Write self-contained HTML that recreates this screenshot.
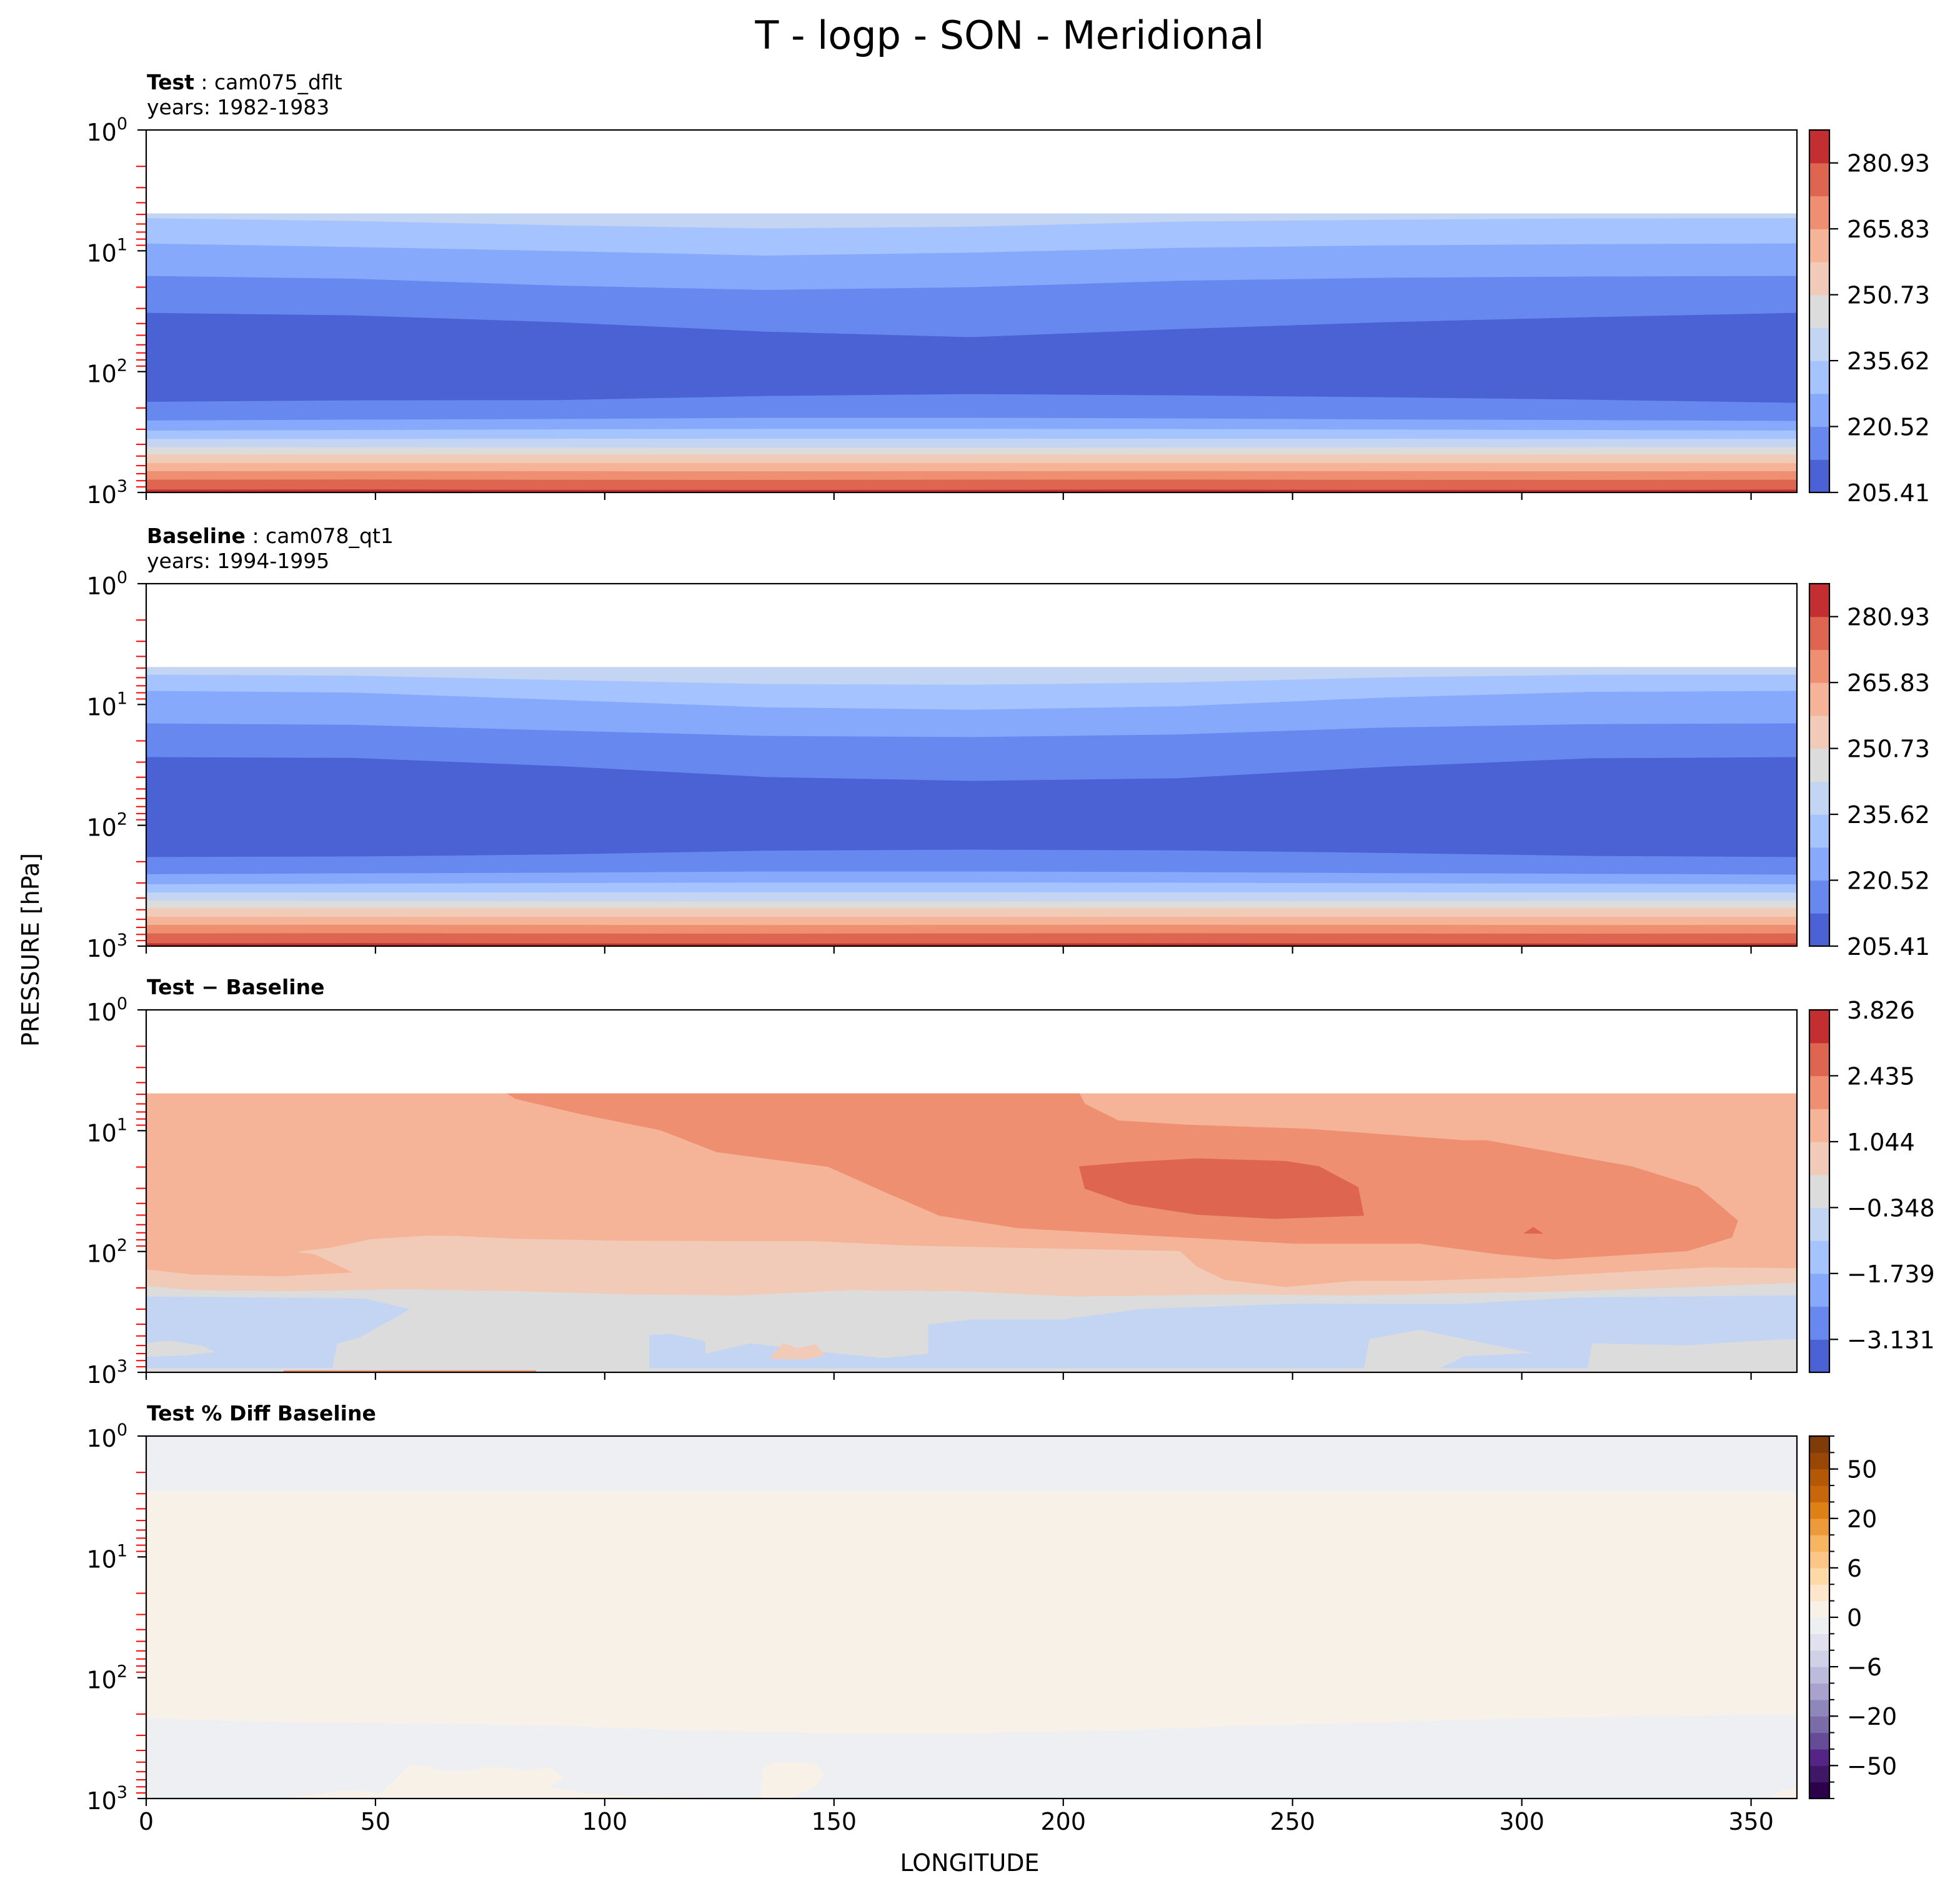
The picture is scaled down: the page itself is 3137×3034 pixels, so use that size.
<!DOCTYPE html>
<html><head><meta charset="utf-8"><style>
html,body{margin:0;padding:0;background:#fff;}
svg{display:block;font-family:"DejaVu Sans","Liberation Sans",sans-serif;}
</style></head><body>
<svg id="fig" xmlns="http://www.w3.org/2000/svg" width="3137" height="3034" viewBox="0 0 1568.5 1517">
<rect width="1568.5" height="1517" fill="#fff"/>
<text x="808" y="39" font-size="31" text-anchor="middle">T - logp - SON - Meridional</text>
<text x="117.5" y="71.5" font-size="16.5"><tspan font-weight="bold">Test</tspan><tspan> : cam075_dflt</tspan></text>
<text x="117.5" y="91.6" font-size="16.5">years: 1982-1983</text>
<text x="117.5" y="434.5" font-size="16.5"><tspan font-weight="bold">Baseline</tspan><tspan> : cam078_qt1</tspan></text>
<text x="117.5" y="454.6" font-size="16.5">years: 1994-1995</text>
<text x="117.5" y="795.6" font-size="16.5" font-weight="bold">Test − Baseline</text>
<text x="117.5" y="1136.6" font-size="16.5" font-weight="bold">Test % Diff Baseline</text>
<text x="776" y="1497" font-size="19" text-anchor="middle">LONGITUDE</text>
<text transform="translate(31,760) rotate(-90)" font-size="19" text-anchor="middle">PRESSURE [hPa]</text>
<g id="layer"></g>
</svg>
<script>
// ---------- data ----------
const LON = [0,45,90,135,180,225,270,315,360];
// Test panel contour boundaries (hPa), top to bottom
const testBounds = [
 [4.93,4.93,4.93,4.93,4.93,4.93,4.93,4.93,4.93],
 [5.39,5.69,6.18,6.57,6.34,5.76,5.56,5.42,5.39],
 [8.74,9.34,10.1,11.0,10.4,9.5,9.06,8.85,8.74],
 [16.2,17.1,19.5,21.2,20.1,17.8,16.8,16.4,16.2],
 [32.8,34.4,39.2,46.9,52.1,44.7,39.2,35.6,32.8],
 [178.6,173.6,172.8,159.8,154.1,157.9,163.6,171.6,182.1],
 [255,251,248,242,242,245,250,253,257],
 [309,306,302,299,299,300,303,306,309],
 [362,362,361,360,360,361,361,362,362],
 [422,424,427,429,429,427,425,423,422],
 [487,487,487,487,487,487,487,487,487],
 [575,575,575,575,575,575,575,575,575],
 [670,668,670,672,670,668,670,672,670],
 [788,785,790,792,788,786,790,792,788],
 [953,950,955,958,955,952,955,958,953]
];
// Baseline panel contour boundaries (hPa)
const baseBounds = [
 [4.93,4.93,4.93,4.93,4.93,4.93,4.93,4.93,4.93],
 [5.69,5.8,6.3,6.8,6.9,6.6,6.0,5.7,5.69],
 [7.76,8.0,9.2,10.6,11.1,10.4,8.8,7.9,7.76],
 [14.4,14.8,16.5,18.3,18.7,17.8,15.6,14.6,14.4],
 [27.4,27.8,32.5,40,43.1,41,33,28,27.4],
 [184,182,175,163,159.8,162,170,180,184],
 [255,251,248,242,242,245,250,253,257],
 [309,306,302,299,299,300,303,306,309],
 [362,362,361,360,360,361,361,362,362],
 [422,424,427,429,429,427,425,423,422],
 [487,487,487,487,487,487,487,487,487],
 [575,575,575,575,575,575,575,575,575],
 [670,668,670,672,670,668,670,672,670],
 [788,785,790,792,788,786,790,792,788],
 [953,950,955,958,955,952,955,958,953]
];
const bandColorIdx = [4,3,2,1,0,1,2,3,4,5,6,7,8,9,10];
const coolwarm = ['#4a62d3','#6788ee','#86a9fc','#a5c3fe','#c4d5f3','#dcdcdc','#f1cbb7','#f5b497','#ef8f72','#de654f','#c32e31'];
const tempTicks = ['205.41','220.52','235.62','250.73','265.83','280.93'];
const tempTickIdx = [0,2,4,6,8,10];
const diffTicks = ['−3.131','−1.739','−0.348','1.044','2.435','3.826'];
const diffTickIdx = [1,3,5,7,9,11];
// Difference panel regions: longitude + log10(pressure)
const diffF2Lon = [0,10,29.4,45.3,36.7,33.1,40.4,48.9,61.1,68.4,80.6,104.9,146.3,165.7,190.1,225.4,229,235.1,248.5,263.1,277.7,299.6,324,341,360,360,0];
const diffF2LogP = [2.150,2.193,2.207,2.176,2.021,2.003,1.969,1.900,1.871,1.874,1.897,1.914,1.917,1.952,1.972,1.998,2.124,2.236,2.297,2.245,2.245,2.219,2.167,2.133,2.141,3,3];
const diffGrayLon = [0,10,31.9,56.2,80.6,104.9,129.2,153.6,177.9,202.2,238.7,263.1,287.4,311.8,336.1,360,360,0];
const diffGrayLogP = [2.288,2.322,2.331,2.314,2.331,2.357,2.366,2.322,2.331,2.374,2.357,2.366,2.348,2.331,2.297,2.262,3,3];
const diffBlueALon = [0,47.7,57.4,51.4,46.5,41.6,40.4,0];
const diffBlueALogP = [2.374,2.391,2.478,2.607,2.710,2.762,3,3];
const diffBlueBLon = [109.8,114.6,121.9,121.9,131.7,151.1,160.9,170.6,170.6,180.4,199.8,216.9,250.9,287.5,311.8,360,360,109.8];
const diffBlueBLogP = [2.693,2.684,2.745,2.848,2.762,2.848,2.883,2.848,2.607,2.564,2.564,2.478,2.434,2.434,2.383,2.365,3,3];
const diffGray1Lon = [265.5,266.8,277.7,287.5,302.0,287.5,280.1];
const diffGray1LogP = [3,2.727,2.650,2.727,2.840,2.865,3];
const diffGray2Lon = [314.2,315.4,336.1,345.9,358,360,360];
const diffGray2LogP = [3,2.762,2.779,2.753,2.727,2.727,3];
const diffGray3Lon = [0,5,12,15,8,0];
const diffGray3LogP = [2.76,2.74,2.78,2.83,2.86,2.87];
const diffStripLon = [0,360,360,0];
const diffStripLogP = [2.968,2.968,3,3];
const diffSmallLon = [136,139,142,146,148,144,138];
const diffSmallLogP = [2.88,2.76,2.80,2.77,2.86,2.89,2.89];
const diffRedLon = [30,85,85,30];
const diffRedLogP = [2.986,2.986,3,3];
const diffF09Lon = [78.8,80.6,95.2,112.2,124.4,148.7,160.9,173.0,190.1,226.6,250.9,277.7,294.7,306.9,336.1,345.8,347.1,338.5,324.0,292.3,287.4,253.4,226.6,212.0,204.7,203.5];
const diffF09LogP = [0.693,0.736,0.865,0.995,1.176,1.297,1.503,1.702,1.805,1.883,1.934,1.934,2.021,2.064,1.995,1.883,1.745,1.469,1.297,1.081,1.081,0.986,0.952,0.917,0.779,0.693];
const diffE06Lon = [203.5,204.7,214.4,229.0,246.1,265.5,264.3,255.8,248.5,229.0,214.4];
const diffE06LogP = [1.297,1.478,1.607,1.693,1.728,1.702,1.469,1.297,1.253,1.231,1.262];
const diffDotLon = [300.5,302.5,304.5];
const diffDotLogP = [1.85,1.80,1.85];
// Percent-diff panel
const pctLowLon = [0,30,60,90,120,150,180,210,240,270,300,330,360,360,0];
const pctLowLogP = [2.338,2.369,2.379,2.400,2.441,2.462,2.462,2.441,2.400,2.369,2.338,2.317,2.307,3,3];
const pctTopLogP = 0.455;
const pctBlob1Lon = [30,44.0,51.0,54.5,57.5,61.4,64.0,69.3,73.6,78.8,82.3,88.4,91.0,87.5,95.4,108.4,130];
const pctBlob1LogP = [3,2.933,2.959,2.838,2.726,2.734,2.769,2.778,2.743,2.743,2.769,2.743,2.838,2.907,2.959,2.984,3];
const pctBlob2Lon = [134,134.5,137,146,148,146,140];
const pctBlob2LogP = [3,2.75,2.70,2.71,2.80,2.90,3];
const pctBlob3Lon = [354,357,360,360];
const pctBlob3LogP = [3,2.93,2.92,3];
const puor = ['#2d004b','#3e1766','#542586','#664c98','#7b6ba7','#8e87b9','#a8a2cc','#bcbbdb','#d0d1e6','#e1e1ee','#eeeff3','#f7f1e8','#fee6cc','#fed9a6','#fdc588','#f8b55f','#ec9a3a','#dd8016','#c8660b','#b35806','#9a4706','#7f3b08'];
const pctTicks = ['−50','−20','−6','0','6','20','50'];
const pctTickIdx = [2,5,8,11,14,17,20];
const xTicks = [0,50,100,150,200,250,300,350];
const yDecades = [0,1,2,3];

// ---------- scales ----------
const NS='http://www.w3.org/2000/svg';
const PL=117, PR=1438, PH=290;
const panelTops=[104,467,808,1149];
const X = lon => PL + lon*(PR-PL)/360;
const YP = (top,p) => top + Math.log10(p)/3*PH;
const YL = (top,lp) => top + Math.max(0,Math.min(3,lp))/3*PH;
const layer=document.getElementById('layer');
function mk(tag,attrs,parent){const e=document.createElementNS(NS,tag);for(const k in attrs)e.setAttribute(k,attrs[k]);(parent||layer).appendChild(e);return e;}

function clip(i){
  const cp=mk('clipPath',{id:'clip'+i});
  mk('rect',{x:PL,y:panelTops[i],width:PR-PL,height:PH},cp);
}
function drawBands(i,bounds,g){
  const top=panelTops[i];
  for(let b=0;b<bounds.length;b++){
    const up=bounds[b];
    const lo=b+1<bounds.length?bounds[b+1]:LON.map(()=>1000);
    let d='M'+LON.map((l,k)=>X(l).toFixed(2)+','+YP(top,up[k]).toFixed(2)).join(' L');
    for(let k=LON.length-1;k>=0;k--) d+=' L'+X(LON[k]).toFixed(2)+','+YP(top,lo[k]).toFixed(2);
    const p=mk('path',{d:d+'Z',fill:coolwarm[bandColorIdx[b]],stroke:coolwarm[bandColorIdx[b]],'stroke-width':0.4},g);
    
    
  }
}
function poly(i,lons,lps,color,name,g){
  const top=panelTops[i];
  const d='M'+lons.map((l,k)=>X(l).toFixed(2)+','+YL(top,lps[k]).toFixed(2)).join(' L')+'Z';
  const p=mk('path',{d:d,fill:color,stroke:color,'stroke-width':0.4},g);
  
  
}
function axes(i,showLabels){
  const top=panelTops[i], bot=top+PH;
  const g=mk('g',{});
  
  
  for(const dcd of [0,1,2]) for(let m=2;m<=9;m++){
    const y=YP(top,m*Math.pow(10,dcd));
    const t=mk('line',{x1:109,x2:117,y1:y,y2:y,stroke:'#ff0000','stroke-width':1},g);
    
    
  }
  for(const dcd of yDecades){
    const y=YP(top,Math.pow(10,dcd));
    const t=mk('line',{x1:110,x2:117,y1:y,y2:y,stroke:'#000','stroke-width':1.1},g);
    
    
    const tx=mk('text',{x:102,y:y+8.5,'font-size':19,'text-anchor':'end'},g);
    
    
    tx.textContent='10';
    const s=mk('tspan',{'font-size':13.5,dy:-9},tx);
    s.textContent=String(dcd);
  }
  for(const xv of xTicks){
    const x=X(xv);
    const t=mk('line',{x1:x,x2:x,y1:bot,y2:bot+6,stroke:'#000','stroke-width':1.1},g);
    
    
    if(showLabels){
      const tx=mk('text',{x:x,y:bot+25,'font-size':19,'text-anchor':'middle'},g);
      
      
      tx.textContent=String(xv);
    }
  }
  const fr=mk('rect',{x:PL,y:top,width:PR-PL,height:PH,fill:'none',stroke:'#000','stroke-width':1.1},g);
  
  
}
function colorbar(i,colors,ticks,tickIdx,minor){
  const top=panelTops[i], n=colors.length, h=PH/n, x0=1448, w=16;
  const g=mk('g',{});
  
  
  colors.forEach((c,k)=>{
    const r=mk('rect',{x:x0,y:top+PH-(k+1)*h,width:w,height:h+0.3,fill:c},g);
    
    
  });
  if(minor){for(let k=0;k<=n;k++){const y=top+PH-k*h;mk('line',{x1:x0+w,x2:x0+w+4,y1:y,y2:y,stroke:'#000','stroke-width':1},g);}}
  ticks.forEach((lab,j)=>{
    const y=top+PH-tickIdx[j]*h;
    mk('line',{x1:x0+w,x2:x0+w+7,y1:y,y2:y,stroke:'#000','stroke-width':1.1},g);
    const t=mk('text',{x:1478,y:y+7,'font-size':19},g);
    
    
    t.textContent=lab;
  });
  mk('rect',{x:x0,y:top,width:w,height:PH,fill:'none',stroke:'#000','stroke-width':1.1},g);
}

// ---------- draw ----------
for(let i=0;i<4;i++) clip(i);
const g1=mk('g',{'clip-path':'url(#clip0)'});


drawBands(0,testBounds,g1);
const g2=mk('g',{'clip-path':'url(#clip1)'});


drawBands(1,baseBounds,g2);

const g3=mk('g',{'clip-path':'url(#clip2)'});


poly(2,[0,360,360,0],[0.693,0.693,3,3],coolwarm[7],'diff-base',g3);
poly(2,diffF2Lon,diffF2LogP,coolwarm[6],'diff-region-0p3-1p0',g3);
poly(2,diffGrayLon,diffGrayLogP,coolwarm[5],'diff-region-near-zero',g3);
poly(2,diffBlueALon,diffBlueALogP,coolwarm[4],'diff-negative-west',g3);
poly(2,diffBlueBLon,diffBlueBLogP,coolwarm[4],'diff-negative-east',g3);
poly(2,diffGray1Lon,diffGray1LogP,coolwarm[5],'diff-gray-blob',g3);
poly(2,diffGray2Lon,diffGray2LogP,coolwarm[5],'diff-gray-blob',g3);
poly(2,diffGray3Lon,diffGray3LogP,coolwarm[5],'diff-gray-blob',g3);
poly(2,diffStripLon,diffStripLogP,coolwarm[5],'diff-surface-strip',g3);
poly(2,diffSmallLon,diffSmallLogP,coolwarm[6],'diff-small-blob',g3);
poly(2,diffRedLon,diffRedLogP,coolwarm[8],'diff-surface-warm',g3);
poly(2,diffF09Lon,diffF09LogP,coolwarm[8],'diff-region-1p7-2p4',g3);
poly(2,diffE06Lon,diffE06LogP,coolwarm[9],'diff-max-region',g3);
poly(2,diffDotLon,diffDotLogP,coolwarm[9],'diff-max-dot',g3);

const g4=mk('g',{'clip-path':'url(#clip3)'});


poly(3,[0,360,360,0],[0,0,3,3],puor[11],'pct-base',g4);
poly(3,[0,360,360,0],[0,0,pctTopLogP,pctTopLogP],puor[10],'pct-top-negative',g4);
poly(3,pctLowLon,pctLowLogP,puor[10],'pct-lower-negative',g4);
poly(3,pctBlob1Lon,pctBlob1LogP,puor[11],'pct-blob',g4);
poly(3,pctBlob2Lon,pctBlob2LogP,puor[11],'pct-blob',g4);
poly(3,pctBlob3Lon,pctBlob3LogP,puor[11],'pct-blob',g4);

for(let i=0;i<4;i++) axes(i,i===3);
colorbar(0,coolwarm,tempTicks,tempTickIdx,false);
colorbar(1,coolwarm,tempTicks,tempTickIdx,false);
colorbar(2,coolwarm,diffTicks,diffTickIdx,false);
colorbar(3,puor,pctTicks,pctTickIdx,true);
</script>
</body></html>
